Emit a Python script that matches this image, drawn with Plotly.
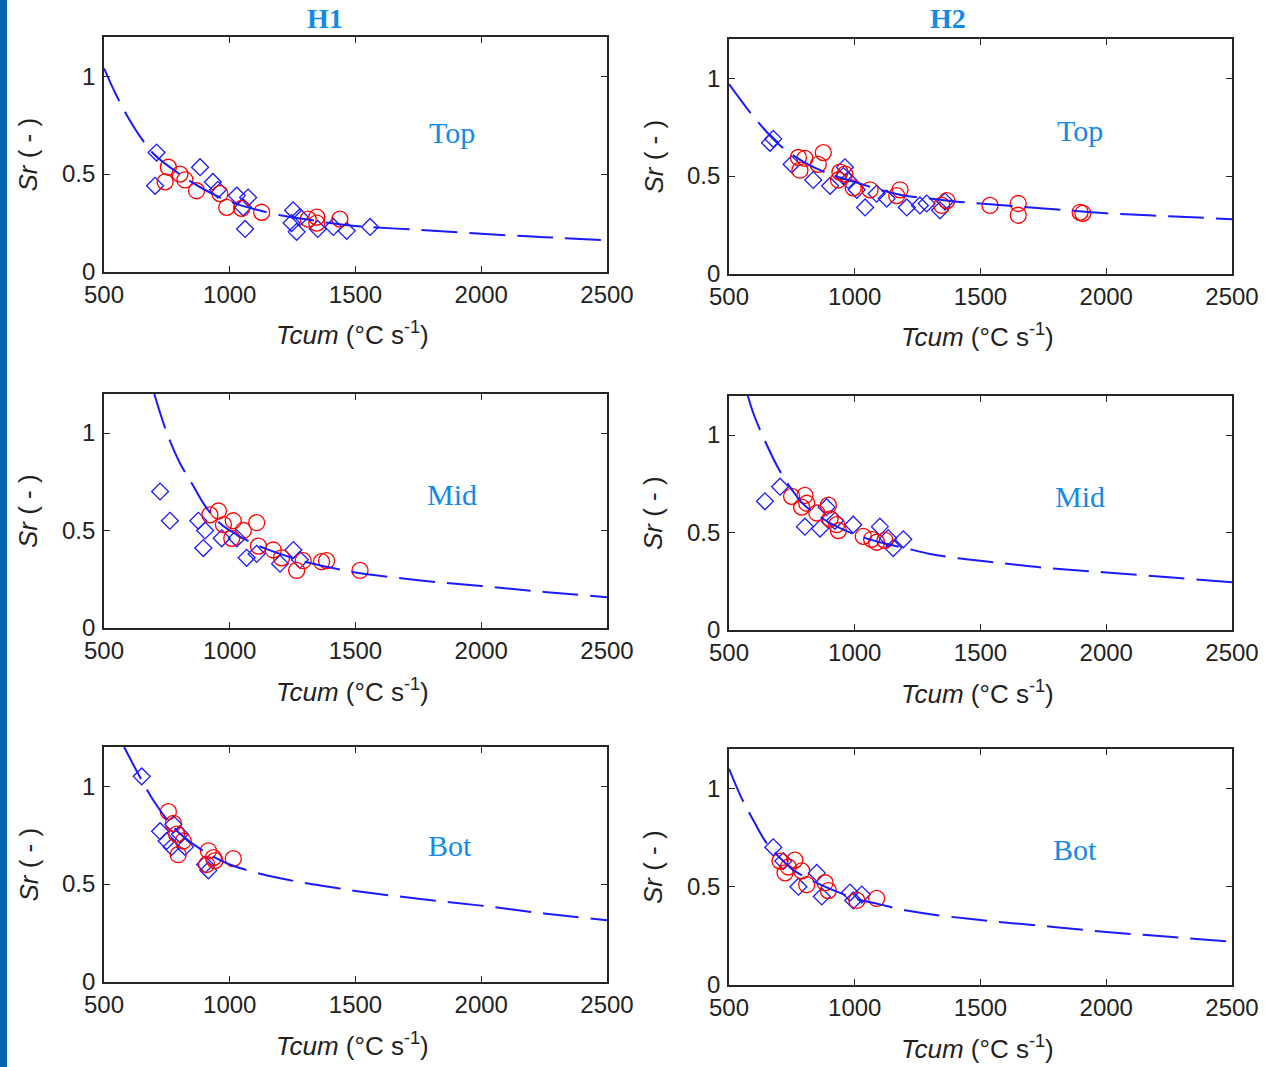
import plotly.graph_objects as go

# ---------------- data ----------------
x_ticks = [500, 1000, 1500, 2000, 2500]
y_ticks = [0, 0.5, 1]
y_tick_text = ["0", "0.5", "1"]
col_titles = ["H1", "H2"]
row_labels = ["Top", "Mid", "Bot"]

# H1 Top
h1_top_dia_x = [709, 703, 882, 933, 953, 1028, 1073, 1053, 1061, 1252, 1246, 1266, 1279, 1350, 1412, 1465, 1558]
h1_top_dia_y = [0.61, 0.44, 0.535, 0.46, 0.42, 0.39, 0.38, 0.33, 0.22, 0.315, 0.25, 0.205, 0.28, 0.22, 0.23, 0.21, 0.23]
h1_top_cir_x = [756, 743, 802, 822, 868, 961, 988, 1047, 1127, 1312, 1346, 1346, 1438]
h1_top_cir_y = [0.535, 0.46, 0.50, 0.47, 0.415, 0.40, 0.33, 0.325, 0.305, 0.27, 0.28, 0.25, 0.27]
h1_top_fit_x = [500, 550, 600, 650, 700, 800, 900, 1000, 1100, 1200, 1300, 1400, 1500, 1750, 2000, 2250, 2500]
h1_top_fit_y = [1.04, 0.90, 0.78, 0.68, 0.60, 0.50, 0.42, 0.36, 0.32, 0.29, 0.27, 0.25, 0.235, 0.215, 0.195, 0.178, 0.162]

# H2 Top
h2_top_dia_x = [676, 663, 749, 835, 902, 961, 955, 974, 1008, 1041, 1087, 1127, 1207, 1259, 1286, 1339, 1359]
h2_top_dia_y = [0.69, 0.67, 0.56, 0.48, 0.45, 0.545, 0.50, 0.48, 0.43, 0.34, 0.41, 0.385, 0.34, 0.35, 0.36, 0.325, 0.37]
h2_top_cir_x = [776, 802, 875, 782, 855, 941, 961, 935, 994, 1061, 1167, 1180, 1346, 1366, 1538, 1650, 1650, 1896, 1907]
h2_top_cir_y = [0.595, 0.59, 0.62, 0.53, 0.56, 0.52, 0.51, 0.48, 0.44, 0.43, 0.40, 0.43, 0.35, 0.375, 0.35, 0.36, 0.30, 0.315, 0.31]
h2_top_fit_x = [500, 600, 700, 800, 900, 1000, 1100, 1200, 1300, 1400, 1500, 1750, 2000, 2250, 2500]
h2_top_fit_y = [0.97, 0.80, 0.66, 0.57, 0.51, 0.47, 0.43, 0.40, 0.385, 0.37, 0.36, 0.335, 0.31, 0.295, 0.28]

# H1 Mid
h1_mid_dia_x = [723, 762, 875, 902, 895, 968, 1028, 1067, 1107, 1200, 1253, 1279]
h1_mid_dia_y = [0.70, 0.55, 0.55, 0.50, 0.41, 0.46, 0.46, 0.36, 0.38, 0.33, 0.40, 0.35]
h1_mid_cir_x = [921, 955, 975, 1014, 1008, 1054, 1107, 1114, 1173, 1206, 1266, 1292, 1365, 1385, 1518]
h1_mid_cir_y = [0.58, 0.60, 0.53, 0.55, 0.46, 0.50, 0.54, 0.42, 0.40, 0.36, 0.295, 0.345, 0.34, 0.345, 0.295]
h1_mid_fit_x = [700, 750, 800, 850, 900, 950, 1000, 1100, 1200, 1300, 1400, 1500, 1750, 2000, 2250, 2500]
h1_mid_fit_y = [1.2, 1.0, 0.85, 0.74, 0.63, 0.55, 0.50, 0.43, 0.38, 0.34, 0.31, 0.285, 0.245, 0.215, 0.185, 0.158]

# H2 Mid
h2_mid_dia_x = [643, 703, 802, 862, 888, 921, 994, 1100, 1133, 1153, 1193]
h2_mid_dia_y = [0.66, 0.735, 0.53, 0.52, 0.63, 0.56, 0.54, 0.53, 0.47, 0.42, 0.465]
h2_mid_cir_x = [749, 802, 809, 789, 849, 895, 902, 928, 935, 1034, 1067, 1087, 1120]
h2_mid_cir_y = [0.685, 0.69, 0.65, 0.63, 0.60, 0.64, 0.57, 0.54, 0.51, 0.48, 0.465, 0.45, 0.46]
h2_mid_fit_x = [575, 600, 650, 700, 750, 800, 900, 1000, 1100, 1200, 1300, 1400, 1500, 1750, 2000, 2250, 2500]
h2_mid_fit_y = [1.2, 1.1, 0.95, 0.82, 0.72, 0.64, 0.55, 0.49, 0.45, 0.42, 0.39, 0.37, 0.355, 0.32, 0.295, 0.27, 0.245]

# H1 Bot
h1_bot_dia_x = [650, 723, 749, 776, 802, 822, 769, 902, 915]
h1_bot_dia_y = [1.05, 0.77, 0.72, 0.805, 0.755, 0.69, 0.69, 0.60, 0.57]
h1_bot_cir_x = [756, 776, 789, 815, 795, 915, 935, 908, 941, 1014]
h1_bot_cir_y = [0.87, 0.81, 0.755, 0.72, 0.65, 0.67, 0.635, 0.60, 0.62, 0.63]
h1_bot_fit_x = [580, 650, 700, 750, 800, 900, 1000, 1100, 1200, 1300, 1400, 1500, 1750, 2000, 2250, 2500]
h1_bot_fit_y = [1.2, 1.03, 0.92, 0.83, 0.76, 0.665, 0.60, 0.56, 0.53, 0.505, 0.485, 0.465, 0.425, 0.39, 0.35, 0.315]

# H2 Bot
h2_bot_dia_x = [676, 716, 776, 849, 869, 981, 1028, 994]
h2_bot_dia_y = [0.70, 0.63, 0.50, 0.57, 0.45, 0.47, 0.46, 0.43]
h2_bot_cir_x = [703, 736, 762, 723, 789, 809, 882, 895, 1008, 1087]
h2_bot_cir_y = [0.63, 0.60, 0.635, 0.57, 0.58, 0.51, 0.52, 0.48, 0.43, 0.44]
h2_bot_fit_x = [500, 550, 600, 650, 700, 750, 800, 900, 1000, 1100, 1200, 1300, 1500, 1750, 2000, 2250, 2500]
h2_bot_fit_y = [1.1, 0.95, 0.83, 0.72, 0.65, 0.59, 0.55, 0.49, 0.44, 0.41, 0.38, 0.36, 0.33, 0.30, 0.27, 0.245, 0.22]

panels = [
    (h1_top_dia_x, h1_top_dia_y, h1_top_cir_x, h1_top_cir_y, h1_top_fit_x, h1_top_fit_y),
    (h2_top_dia_x, h2_top_dia_y, h2_top_cir_x, h2_top_cir_y, h2_top_fit_x, h2_top_fit_y),
    (h1_mid_dia_x, h1_mid_dia_y, h1_mid_cir_x, h1_mid_cir_y, h1_mid_fit_x, h1_mid_fit_y),
    (h2_mid_dia_x, h2_mid_dia_y, h2_mid_cir_x, h2_mid_cir_y, h2_mid_fit_x, h2_mid_fit_y),
    (h1_bot_dia_x, h1_bot_dia_y, h1_bot_cir_x, h1_bot_cir_y, h1_bot_fit_x, h1_bot_fit_y),
    (h2_bot_dia_x, h2_bot_dia_y, h2_bot_cir_x, h2_bot_cir_y, h2_bot_fit_x, h2_bot_fit_y),
]

# ---------------- layout geometry ----------------
W, H = 1265, 1067
# pixel boxes: (left, right, top, bottom)
boxes = [
    (104, 607, 37, 272), (729, 1232, 39, 274),
    (104, 607, 394, 628), (729, 1232, 396, 630),
    (104, 607, 747, 982), (729, 1232, 749, 985),
]
# pixel centres of the in-panel row labels
label_pos = [(452, 132), (1080, 130), (452, 494), (1080, 496), (450, 845), (1075, 849)]

fig = go.Figure()
BLUE = "#1a1aff"
RED = "#ff0000"
LABEL_BLUE = "#138ae8"
AXIS_COLOR = "#262626"
tick_font = dict(family="Liberation Sans, Arial", size=24, color="#222222")

layout = dict(
    template="none",
    width=W, height=H, margin=dict(l=0, r=0, t=0, b=0, autoexpand=False),
    paper_bgcolor="white", plot_bgcolor="white", showlegend=False,
)

annotations = []
shapes = []
for i, (dx, dy, cx, cy, fx, fy) in enumerate(panels):
    n = i + 1
    xa = "x" if n == 1 else f"x{n}"
    ya = "y" if n == 1 else f"y{n}"
    fig.add_trace(go.Scatter(x=dx, y=dy, mode="markers", xaxis=xa, yaxis=ya,
                             marker=dict(symbol="diamond-open", size=13, color=BLUE,
                                         line=dict(width=1.3, color=BLUE))))
    fig.add_trace(go.Scatter(x=cx, y=cy, mode="markers", xaxis=xa, yaxis=ya,
                             marker=dict(symbol="circle-open", size=16, color=RED,
                                         line=dict(width=1.3, color=RED))))
    fig.add_trace(go.Scatter(x=fx, y=fy, mode="lines", xaxis=xa, yaxis=ya,
                             line=dict(color=BLUE, width=2, dash="36px,12px", shape="spline")))
    l, r, t, b = boxes[i]
    axkey_x = "xaxis" if n == 1 else f"xaxis{n}"
    axkey_y = "yaxis" if n == 1 else f"yaxis{n}"
    layout[axkey_x] = dict(
        domain=[l / W, r / W], anchor=ya, range=[500, 2500], automargin=False,
        tickvals=x_ticks, ticktext=[str(v) for v in x_ticks],
        ticks="inside", ticklen=6, tickcolor=AXIS_COLOR, tickwidth=1.2,
        showline=True, linecolor=AXIS_COLOR, linewidth=1.6, mirror="ticks",
        showgrid=False, zeroline=False, tickfont=tick_font,
    )
    layout[axkey_y] = dict(
        domain=[1 - b / H, 1 - t / H], anchor=xa, range=[0, 1.2], automargin=False,
        tickvals=y_ticks, ticktext=y_tick_text,
        ticks="inside", ticklen=6, tickcolor=AXIS_COLOR, tickwidth=1.2,
        showline=True, linecolor=AXIS_COLOR, linewidth=1.6, mirror="ticks",
        showgrid=False, zeroline=False, tickfont=tick_font, ticklabelstandoff=2,
    )
    # axis titles
    annotations.append(dict(
        x=(l + r) / 2 / W - 0.002, y=1 - (b + 62) / H, xref="paper", yref="paper",
        text="<i>Tcum</i> (°C s<sup>-1</sup>)", showarrow=False,
        font=dict(family="Liberation Sans, Arial", size=26, color="#222222"),
        xanchor="center", yanchor="middle"))
    annotations.append(dict(
        x=(l - 76) / W, y=1 - (t + b) / 2 / H, xref="paper", yref="paper",
        text="<i>Sr</i> ( - )", showarrow=False, textangle=-90,
        font=dict(family="Liberation Sans, Arial", size=26, color="#222222"),
        xanchor="center", yanchor="middle"))
    # row label
    row = i // 2
    px, py = label_pos[i]
    annotations.append(dict(
        x=px / W, y=1 - py / H,
        xref="paper", yref="paper", text=row_labels[row], showarrow=False,
        font=dict(family="Liberation Serif, Times New Roman", size=30, color=LABEL_BLUE),
        xanchor="center", yanchor="middle"))

# column titles
for j, cxp in enumerate([325, 948]):
    annotations.append(dict(
        x=cxp / W, y=1 - 19 / H, xref="paper", yref="paper",
        text=f"<b>{col_titles[j]}</b>", showarrow=False,
        font=dict(family="Liberation Serif, Times New Roman", size=28, color=LABEL_BLUE),
        xanchor="center", yanchor="middle"))

# left blue bar
shapes.append(dict(type="rect", xref="paper", yref="paper", x0=0, x1=7 / W, y0=0, y1=1,
                   fillcolor="#0066b3", line=dict(width=0), layer="above"))

layout["annotations"] = annotations
layout["shapes"] = shapes
fig.update_layout(**layout)
fig.write_html(
    "out.html",
    config={"displayModeBar": False},
    post_script="document.body.style.margin='0';document.body.style.overflow='hidden';",
)
